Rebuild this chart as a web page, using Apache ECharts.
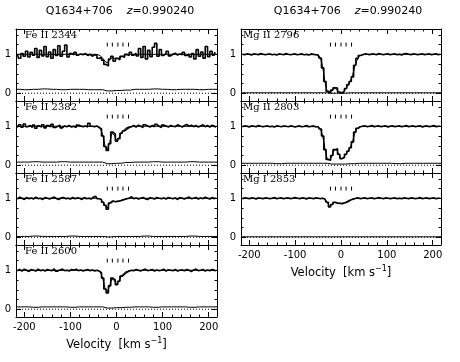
<!DOCTYPE html>
<html><head><meta charset="utf-8">
<script src="https://cdn.jsdelivr.net/npm/echarts@6/dist/echarts.min.js"></script>
<style>html,body{margin:0;padding:0;background:#fff}#c{width:460px;height:362px}</style>
</head><body><div id="c"></div>
<script>
// ---------- data ----------
const columnTitle = ['Q1634+706', 'z', '=0.990240'];
const panelNames = ['Fe II 2344','Fe II 2382','Fe II 2587','Fe II 2600','Mg II 2796','Mg II 2803','Mg I 2853'];
const xTickLabels = [-200,-100,0,100,200];
const yTickLabels = [0,1];
const axisTitle = 'Velocity';
const axisUnit = ['km s', '−1'];

const velocity = [
-215,-210,-205,-200,-195,-190,-185,-180,-175,-170,
-165,-160,-155,-150,-145,-140,-135,-130,-125,-120,
-115,-110,-105,-100,-95,-90,-85,-80,-75,-70,
-65,-60,-55,-50,-45,-40,-35,-30,-25,-20,
-15,-10,-5,0,5,10,15,20,25,30,
35,40,45,50,55,60,65,70,75,80,
85,90,95,100,105,110,115,120,125,130,
135,140,145,150,155,160,165,170,175,180,
185,190,195,200,205,210,215];

const fe2344 = [
1.00,0.90,1.02,0.95,1.08,0.93,1.05,0.98,1.15,0.92,
1.10,0.96,1.20,0.94,1.06,0.90,1.12,0.97,1.22,0.95,
1.08,1.24,0.93,1.02,0.99,1.05,0.98,1.01,0.99,1.02,
0.97,1.00,0.95,0.99,0.97,0.90,0.92,0.85,0.74,0.70,
0.88,0.95,0.82,0.90,0.86,0.95,0.92,1.00,0.97,1.05,
0.98,1.02,0.96,1.15,0.92,1.20,0.88,1.10,0.94,1.18,
1.28,0.95,1.12,0.97,1.02,1.08,0.96,1.00,1.03,0.98,
1.01,0.99,1.05,0.97,1.00,0.93,1.02,0.88,1.12,0.95,
1.06,0.90,1.20,0.94,1.08,0.98,1.04];
const fe2382 = [
0.97,1.04,0.98,1.06,0.99,1.02,0.97,1.03,0.95,1.01,
0.98,1.04,0.96,1.02,0.99,1.05,0.97,1.00,1.03,0.96,
1.01,0.99,1.02,0.98,1.00,0.97,1.03,1.01,0.99,1.01,
0.98,1.08,1.00,0.99,1.01,0.97,0.93,0.75,0.48,0.38,
0.55,0.85,0.80,0.62,0.68,0.82,0.88,0.93,0.97,0.99,
1.02,0.98,1.03,1.00,0.97,1.04,1.01,0.98,1.02,0.99,
1.05,1.00,0.97,1.03,1.01,0.98,1.02,1.00,0.99,1.04,
1.01,0.98,1.02,1.05,1.00,1.03,0.99,1.02,0.98,1.01,
1.04,0.99,1.02,0.98,1.03,1.00,0.97];
const fe2587 = [
0.98,1.03,1.00,0.97,1.02,0.99,1.01,0.98,1.03,0.99,
1.00,0.97,1.02,1.00,0.98,1.01,1.03,0.99,0.97,1.01,
1.02,0.99,1.00,0.98,1.02,0.99,1.01,1.00,0.97,1.02,
0.99,1.00,0.98,1.03,1.05,0.99,0.97,0.90,0.82,0.72,
0.88,0.93,0.91,0.92,0.93,0.95,0.97,0.99,1.00,1.04,
0.99,1.01,0.98,1.00,1.02,0.99,0.97,1.01,1.00,0.98,
1.02,1.00,0.99,1.01,0.98,1.02,1.00,0.99,1.01,0.97,
1.02,1.00,0.98,1.01,1.03,0.99,1.00,1.02,0.98,1.01,
0.99,1.03,1.00,0.98,1.02,0.99,1.01];
const fe2600 = [
0.99,1.02,0.98,1.03,1.00,0.97,1.02,1.00,0.98,1.03,
0.99,1.01,0.98,1.02,1.00,0.99,1.04,0.98,1.01,1.03,
0.99,1.00,0.98,1.02,1.00,1.03,0.99,1.01,0.98,1.00,
1.02,0.99,1.01,0.98,1.00,0.98,0.94,0.80,0.52,0.42,
0.60,0.80,0.75,0.63,0.72,0.85,0.90,0.95,0.98,1.00,
0.99,1.02,1.00,0.98,1.01,1.03,0.99,1.00,1.02,0.98,
1.01,0.99,1.00,1.03,0.98,1.01,1.00,0.99,1.02,0.98,
1.00,1.01,0.99,1.02,1.00,0.97,1.01,1.03,0.99,1.00,
1.02,0.98,1.01,0.99,1.02,1.00,0.98];
const mg2796 = [
1.00,0.99,1.01,1.00,0.98,1.01,1.00,0.99,1.02,1.00,
0.99,1.00,1.01,0.99,1.00,0.98,1.01,1.00,0.99,1.02,
1.00,0.99,1.00,1.01,0.99,1.00,1.01,0.99,1.00,0.98,
1.01,1.00,0.99,0.98,0.90,0.65,0.30,0.05,0.01,0.08,
0.14,0.13,0.03,0.00,0.05,0.12,0.22,0.30,0.42,0.72,
0.90,0.97,0.99,1.01,1.00,0.99,1.01,1.00,0.99,1.02,
1.00,0.99,1.00,1.01,0.99,1.00,1.01,0.99,1.00,0.98,
1.01,1.02,1.00,0.99,1.01,1.00,0.99,1.00,1.01,0.99,
1.00,1.01,0.99,1.00,1.01,0.99,1.00];
const mg2803 = [
0.99,1.01,1.00,0.98,1.01,1.00,0.99,1.02,1.00,0.99,
1.00,1.01,0.99,1.00,0.98,1.01,1.00,0.99,1.01,1.00,
0.99,1.01,1.00,0.98,1.00,1.01,0.99,1.00,1.02,0.99,
1.00,1.01,0.99,0.99,0.93,0.75,0.40,0.15,0.13,0.25,
0.40,0.42,0.28,0.17,0.20,0.28,0.36,0.45,0.60,0.85,
0.95,0.99,1.00,1.01,0.99,1.00,1.02,0.99,1.00,1.01,
0.99,1.00,1.01,0.98,1.00,1.01,0.99,1.00,1.01,0.99,
1.00,1.02,0.99,1.00,1.01,0.99,1.00,1.01,0.98,1.00,
1.01,0.99,1.00,1.02,0.99,1.00,1.01];
const mg2853 = [
0.99,1.01,1.00,0.99,1.01,1.00,0.98,1.01,1.00,0.99,
1.01,1.00,0.99,1.00,1.02,0.99,1.00,1.01,0.99,1.00,
1.01,0.99,1.00,1.02,1.00,0.99,1.01,1.00,0.98,1.01,
1.00,0.99,1.01,1.00,0.99,1.00,0.98,0.90,0.78,0.84,
0.90,0.88,0.87,0.86,0.88,0.90,0.93,0.96,0.98,1.00,
1.01,0.99,1.00,1.01,0.99,1.00,1.01,0.99,1.00,1.02,
1.00,0.99,1.01,1.00,0.99,1.00,1.01,0.99,1.00,0.99,
1.01,1.00,0.99,1.01,1.00,0.99,1.00,1.02,0.99,1.00,
1.01,0.99,1.00,1.01,0.99,1.00,1.01];

const modelV = [-50,-45,-40,-35,-30,-25,-20,-15,-10,-5,0,5,10,15,20,25,30,35,40,45,50];
const m2344 = [1,1,0.99,0.96,0.90,0.82,0.78,0.86,0.92,0.90,0.88,0.90,0.93,0.96,0.98,0.99,1,1,1,1,1];
const m2382 = [1,1,0.99,0.95,0.78,0.50,0.40,0.58,0.82,0.78,0.64,0.70,0.82,0.90,0.95,0.98,0.99,1,1,1,1];
const m2587 = [1,1,1,0.98,0.92,0.82,0.74,0.88,0.93,0.92,0.92,0.93,0.95,0.97,0.99,1,1,1,1,1,1];
const m2600 = [1,1,0.99,0.95,0.80,0.54,0.44,0.60,0.78,0.74,0.64,0.72,0.84,0.91,0.96,0.98,0.99,1,1,1,1];
const m2796 = [0.99,0.92,0.68,0.30,0.04,0,0.07,0.13,0.11,0.02,0,0.04,0.11,0.20,0.30,0.45,0.68,0.85,0.95,0.99,1];
const m2803 = [0.99,0.94,0.76,0.42,0.16,0.13,0.24,0.38,0.41,0.28,0.17,0.19,0.27,0.36,0.46,0.60,0.82,0.94,0.99,1,1];
const m2853 = [1,1,1,0.98,0.90,0.79,0.84,0.89,0.88,0.87,0.87,0.88,0.90,0.93,0.96,0.98,0.99,1,1,1,1];

const errV = [-218,-200,-180,-160,-140,-120,-100,-80,-60,-40,-20,0,20,40,60,80,100,120,140,160,180,200,218];
const e2344 = [0.10,0.09,0.10,0.11,0.10,0.09,0.10,0.10,0.09,0.09,0.06,0.07,0.08,0.10,0.10,0.11,0.10,0.09,0.10,0.10,0.09,0.10,0.10];
const e2382 = [0.08,0.08,0.09,0.08,0.08,0.09,0.08,0.08,0.08,0.08,0.04,0.05,0.07,0.08,0.08,0.09,0.08,0.08,0.08,0.09,0.08,0.08,0.08];
const e2587 = [0.02,0.02,0.03,0.02,0.02,0.02,0.03,0.02,0.02,0.02,0.01,0.02,0.02,0.02,0.03,0.02,0.02,0.02,0.02,0.03,0.02,0.02,0.02];
const e2600 = [0.06,0.06,0.05,0.06,0.06,0.06,0.05,0.06,0.06,0.06,0.03,0.04,0.05,0.06,0.06,0.05,0.06,0.06,0.06,0.05,0.06,0.06,0.06];
const e2796 = [0.01,0.01,0.01,0.01,0.01,0.01,0.01,0.01,0.01,0.01,0.00,0.00,0.01,0.01,0.01,0.01,0.01,0.01,0.01,0.01,0.01,0.01,0.01];
const e2803 = [0.05,0.05,0.05,0.05,0.04,0.05,0.05,0.05,0.05,0.05,0.03,0.03,0.04,0.05,0.05,0.05,0.05,0.04,0.05,0.05,0.05,0.05,0.05];
const e2853 = [0.01,0.01,0.01,0.01,0.01,0.01,0.01,0.01,0.01,0.01,0.01,0.01,0.01,0.01,0.01,0.01,0.01,0.01,0.01,0.01,0.01,0.01,0.01];

const compLeft = [-20,-9,3,14,26];
const compRight = [-23,-12,0,11,23];

// ---------- layout ----------
const XMIN = -218, XMAX = 218, YMIN = -0.2, YMAX = 1.65;
const frames = [
  {left:16, top:29, width:201, height:72, xl:false, lx:25},
  {left:16, top:101, width:201, height:72, xl:false, lx:25},
  {left:16, top:173, width:201, height:72, xl:false, lx:25},
  {left:16, top:245, width:201, height:72, xl:true, lx:25},
  {left:241, top:29, width:200, height:72, xl:false, lx:243},
  {left:241, top:101, width:200, height:72, xl:false, lx:243},
  {left:241, top:173, width:200, height:72, xl:true, lx:243}
];
const fluxes = [fe2344, fe2382, fe2587, fe2600, mg2796, mg2803, mg2853];
const models = [m2344, m2382, m2587, m2600, m2796, m2803, m2853];
const errs = [e2344, e2382, e2587, e2600, e2796, e2803, e2853];
const comps = [compLeft, compLeft, compLeft, compLeft, compRight, compRight, compRight];

const xMajor = xTickLabels.slice();
const xMinor = [];
for (let v = -200; v <= 200; v += 20) if (v % 100 !== 0) xMinor.push(v);
const yMajor = yTickLabels.slice();
const yMinor = [0.25, 0.5, 0.75, 1.25, 1.5];

const FONT = 'DejaVu Sans';
const grid = [], xAxis = [], yAxis = [], series = [], title = [];

frames.forEach((f, i) => {
  grid.push({left: f.left, top: f.top, width: f.width, height: f.height});
  const line = {show: true, onZero: false, lineStyle: {color: '#000', width: 1}};
  const noLine = {show: false, onZero: false};
  const tickStyle = {color: '#000', width: 1};
  ['bottom', 'top'].forEach(pos => {
    const isLab = pos === 'bottom' && f.xl;
    xAxis.push({
      type: 'value', gridIndex: i, position: pos, min: XMIN, max: XMAX,
      splitLine: {show: false}, axisLine: line,
      axisTick: {show: true, inside: true, length: 5, customValues: xMajor, lineStyle: tickStyle},
      axisLabel: {show: isLab, customValues: xMajor, color: '#000', fontFamily: FONT, fontSize: 10, margin: 5,
        formatter: v => String(v)},
      name: isLab ? axisTitle + '  [{n|' + axisUnit[0] + '}{s|' + axisUnit[1] + '}]' : '',
      nameLocation: 'middle', nameGap: 20,
      nameTextStyle: {color: '#000', fontFamily: FONT, fontSize: 11.5,
        rich: {n: {fontFamily: FONT, fontSize: 11.5, color: '#000'},
               s: {fontFamily: FONT, fontSize: 8, color: '#000', padding: [0, 0, 8, 0]}}}
    });
    xAxis.push({
      type: 'value', gridIndex: i, position: pos, min: XMIN, max: XMAX,
      splitLine: {show: false}, axisLine: noLine,
      axisTick: {show: true, inside: true, length: 2.5, customValues: xMinor, lineStyle: tickStyle},
      axisLabel: {show: false}
    });
  });
  ['left', 'right'].forEach(pos => {
    yAxis.push({
      type: 'value', gridIndex: i, position: pos, min: YMIN, max: YMAX,
      splitLine: {show: false}, axisLine: line,
      axisTick: {show: true, inside: true, length: 5, customValues: yMajor, lineStyle: tickStyle},
      axisLabel: {show: pos === 'left', customValues: yMajor, color: '#000', fontFamily: FONT, fontSize: 10, margin: 5,
        formatter: v => String(v)}
    });
    yAxis.push({
      type: 'value', gridIndex: i, position: pos, min: YMIN, max: YMAX,
      splitLine: {show: false}, axisLine: noLine,
      axisTick: {show: true, inside: true, length: 2.5, customValues: yMinor, lineStyle: tickStyle},
      axisLabel: {show: false}
    });
  });
  const xi = i * 4, yi = i * 4;
  series.push({type: 'line', xAxisIndex: xi, yAxisIndex: yi, symbol: 'none', silent: true,
    data: [[XMIN, 0], [XMAX, 0]], lineStyle: {color: '#000', width: 1, type: [1, 2]}});
  series.push({type: 'line', xAxisIndex: xi, yAxisIndex: yi, symbol: 'none', silent: true, step: 'middle',
    data: errV.map((v, k) => [v, errs[i][k]]), lineStyle: {color: '#000', width: 1}});
  series.push({type: 'line', xAxisIndex: xi, yAxisIndex: yi, symbol: 'none', silent: true,
    data: [[XMIN, 1]].concat(modelV.map((v, k) => [v, models[i][k]])).concat([[XMAX, 1]]),
    lineStyle: {color: '#000', width: 1}});
  series.push({type: 'line', xAxisIndex: xi, yAxisIndex: yi, symbol: 'none', silent: true, step: 'middle',
    data: velocity.map((v, k) => [v, fluxes[i][k]]), lineStyle: {color: '#000', width: 1.6}});
  series.push({type: 'custom', xAxisIndex: xi, yAxisIndex: yi, silent: true,
    data: comps[i].map(v => [v, 1.2]), encode: {x: 0, y: 1},
    renderItem: (params, api) => {
      const v = api.value(0);
      const p1 = api.coord([v, 1.2]), p2 = api.coord([v, 1.3]);
      return {type: 'line', shape: {x1: p1[0], y1: p1[1], x2: p2[0], y2: p2[1]},
        style: {stroke: '#000', lineWidth: 1}};
    }});
  title.push({text: panelNames[i], left: f.lx, top: f.top + 1, padding: 0,
    textStyle: {fontFamily: 'DejaVu Serif', fontSize: 10, fontWeight: 'normal', color: '#000'}});
});

[120, 348].forEach(cx => {
  title.push({text: '{n|' + columnTitle[0] + '}    {i|' + columnTitle[1] + '}{n|' + columnTitle[2] + '}',
    left: cx, top: 6, textAlign: 'center', padding: 0,
    textStyle: {fontFamily: FONT, fontSize: 11, fontWeight: 'normal', color: '#000',
      rich: {n: {fontFamily: FONT, fontSize: 11, color: '#000'},
             i: {fontFamily: FONT, fontSize: 11, fontStyle: 'italic', color: '#000'}}}});
});

const chart = echarts.init(document.getElementById('c'), null, {renderer: 'canvas'});
chart.setOption({animation: false, backgroundColor: '#fff', title, grid, xAxis, yAxis, series});
</script></body></html>
